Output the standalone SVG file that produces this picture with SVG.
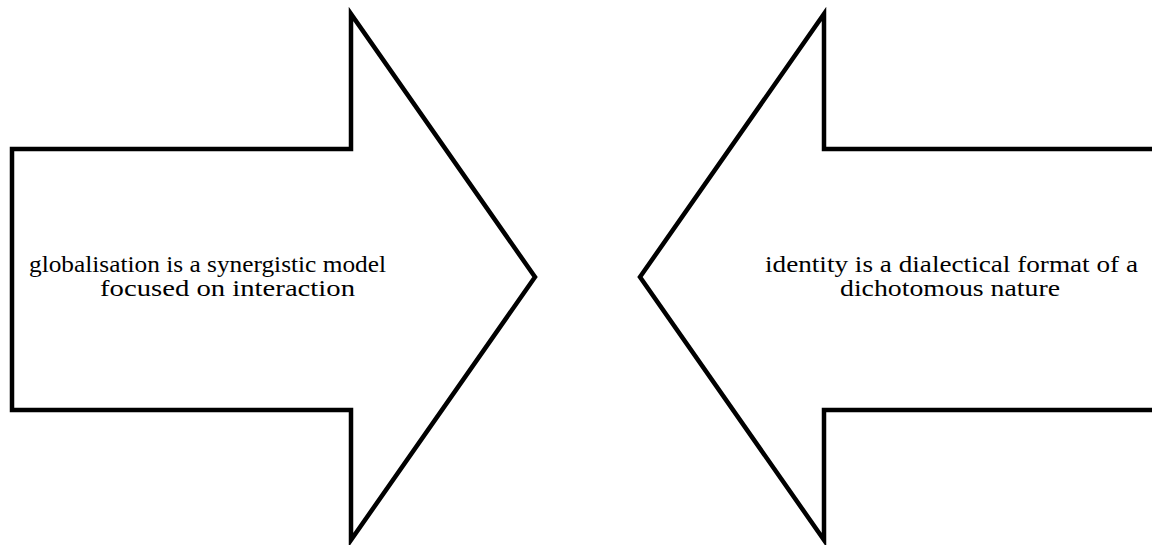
<svg xmlns="http://www.w3.org/2000/svg" width="1152" height="545" viewBox="0 0 1152 545">
<style>
.arrow{fill:#fff;stroke:#000;stroke-width:4.5;stroke-linejoin:miter;stroke-miterlimit:10}
.lbl{font-family:"Liberation Serif","DejaVu Serif",serif;font-size:23px;fill:#000}
</style>
<rect width="1152" height="545" fill="#fff"/>
<g id="left-arrow">
<polygon class="arrow" points="12,149 351,149 351,14 535,277 351,540 351,410 12,410"/>
<text class="lbl" x="29" y="272" textLength="357" lengthAdjust="spacingAndGlyphs">globalisation is a synergistic model</text>
<text class="lbl" x="100" y="296" textLength="255" lengthAdjust="spacingAndGlyphs">focused on interaction</text>
</g>
<g id="right-arrow">
<polygon class="arrow" points="1160,149 824,149 824,14 640,277 824,540 824,410 1160,410"/>
<text class="lbl" x="765" y="272" textLength="373" lengthAdjust="spacingAndGlyphs">identity is a dialectical format of a</text>
<text class="lbl" x="840" y="296" textLength="220" lengthAdjust="spacingAndGlyphs">dichotomous nature</text>
</g>
<g id="connectors"/>
</svg>
